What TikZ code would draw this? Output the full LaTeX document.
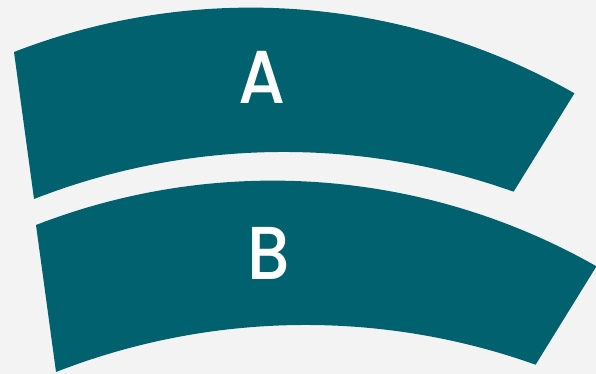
\documentclass[tikz,border=0pt]{standalone}
\usepackage{fontspec}
\newfontfamily\labfont{Poppins Medium}
\definecolor{bandcol}{HTML}{02616F}
\definecolor{bgcol}{HTML}{F3F3F3}
\begin{document}
\begin{tikzpicture}[x=1pt,y=-1pt,
  band/.style={fill=bandcol, draw=none},
  lab/.style={text=white, font=\labfont\fontsize{75}{75}\selectfont, inner sep=0pt, xscale=0.9},
  pics/bandshape/.style={code={
    \path[band] (14,52) arc[start angle=-111.23, end angle=-60.34, radius=654]
      -- (513.6,191.7) arc[start angle=-70.40, end angle=-111.34, radius=685.8] -- cycle;
  }}]
\fill[bgcol] (0,0) rectangle (596,374);
\useasboundingbox (0,0) rectangle (596,374);
\pic (bandA) at (0,0) {bandshape};
\pic (bandB) at (22,173) {bandshape};
\node[lab] (A) at (262,77) {A};
\node[lab] (B) at (269,253) {B};
\end{tikzpicture}
\end{document}
